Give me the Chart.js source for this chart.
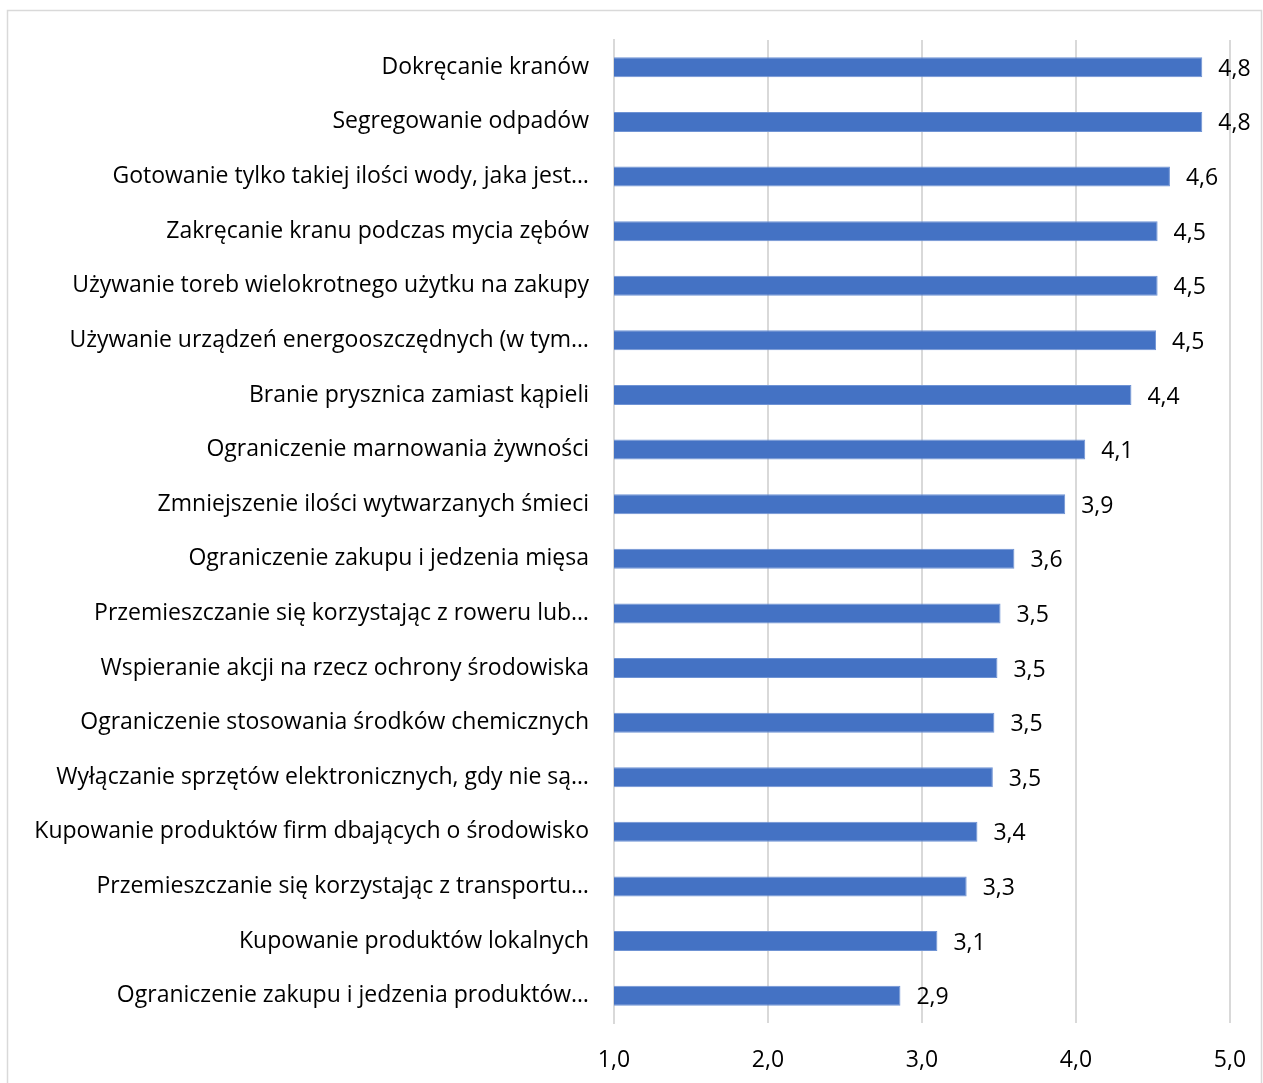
<!DOCTYPE html>
<html>
<head>
<meta charset="utf-8">
<script src="https://cdn.jsdelivr.net/npm/chart.js@4/dist/chart.umd.min.js"></script>
<style>
html,body{margin:0;padding:0;background:#fff;}
#wrap{position:absolute;left:0;top:0;width:1263px;height:1083px;}
</style>
</head>
<body>
<div id="wrap"><canvas id="c" width="1263" height="1083"></canvas></div>
<script>
const categories = [
  "Dokręcanie kranów",
  "Segregowanie odpadów",
  "Gotowanie tylko takiej ilości wody, jaka jest…",
  "Zakręcanie kranu podczas mycia zębów",
  "Używanie toreb wielokrotnego użytku na zakupy",
  "Używanie urządzeń energooszczędnych (w tym…",
  "Branie prysznica zamiast kąpieli",
  "Ograniczenie marnowania żywności",
  "Zmniejszenie ilości wytwarzanych śmieci",
  "Ograniczenie zakupu i jedzenia mięsa",
  "Przemieszczanie się korzystając z roweru lub…",
  "Wspieranie akcji na rzecz ochrony środowiska",
  "Ograniczenie stosowania środków chemicznych",
  "Wyłączanie sprzętów elektronicznych, gdy nie są…",
  "Kupowanie produktów firm dbających o środowisko",
  "Przemieszczanie się korzystając z transportu…",
  "Kupowanie produktów lokalnych",
  "Ograniczenie zakupu i jedzenia produktów…"
];
const values = [4.82, 4.82, 4.61, 4.53, 4.53, 4.52, 4.36, 4.06, 3.93, 3.60, 3.51, 3.49, 3.47, 3.46, 3.36, 3.29, 3.10, 2.86];
const axisMin = 1, axisMax = 5, axisStep = 1;

const FONT = "'Open Sans', sans-serif";
const FSIZE = 23;
const fmt = v => Number(v).toFixed(1).replace('.', ',');

const framePlugin = {
  id: 'frame',
  beforeDraw(chart) {
    const ctx = chart.ctx;
    ctx.save();
    ctx.fillStyle = '#fff';
    ctx.fillRect(0, 0, chart.width, chart.height);
    ctx.strokeStyle = '#d9d9d9';
    ctx.lineWidth = 1.5;
    ctx.strokeRect(7.5, 10.5, 1254, 1090);
    ctx.restore();
  }
};

const labelPlugin = {
  id: 'barLabels',
  afterDatasetsDraw(chart) {
    const ctx = chart.ctx;
    const meta = chart.getDatasetMeta(0);
    ctx.save();
    ctx.font = FSIZE + 'px ' + FONT;
    ctx.fillStyle = '#000';
    ctx.textAlign = 'left';
    ctx.textBaseline = 'middle';
    meta.data.forEach((el, i) => {
      ctx.fillText(fmt(values[i]), el.x + 16, el.y + 2);
    });
    ctx.restore();
  }
};

new Chart(document.getElementById('c'), {
  type: 'bar',
  data: {
    labels: categories,
    datasets: [{
      data: values,
      backgroundColor: '#4472C4',
      borderColor: '#6f93d4',
      borderWidth: 1,
      borderSkipped: 'left',
      categoryPercentage: 1,
      barPercentage: 0.366
    }]
  },
  options: {
    indexAxis: 'y',
    responsive: false,
    animation: false,
    layout: { padding: { top: 40, right: 33, left: 0, bottom: 0 } },
    plugins: { legend: { display: false }, tooltip: { enabled: false } },
    scales: {
      x: {
        min: axisMin, max: axisMax,
        ticks: {
          stepSize: axisStep,
          callback: v => fmt(v),
          color: '#000',
          font: { family: FONT, size: FSIZE },
          padding: 24
        },
        grid: { color: '#d9d9d9', lineWidth: 2, drawTicks: false },
        border: { display: false },
        afterFit(scale) { scale.height = 60; scale.paddingLeft = 0; scale.paddingRight = 0; }
      },
      y: {
        ticks: {
          color: '#000',
          font: { family: FONT, size: FSIZE },
          padding: 25,
          autoSkip: false
        },
        grid: { display: false, drawTicks: false },
        border: { display: true, color: '#d9d9d9', width: 2 },
        afterFit(scale) { scale.width = 614; }
      }
    }
  },
  plugins: [framePlugin, labelPlugin]
});
</script>
</body>
</html>
